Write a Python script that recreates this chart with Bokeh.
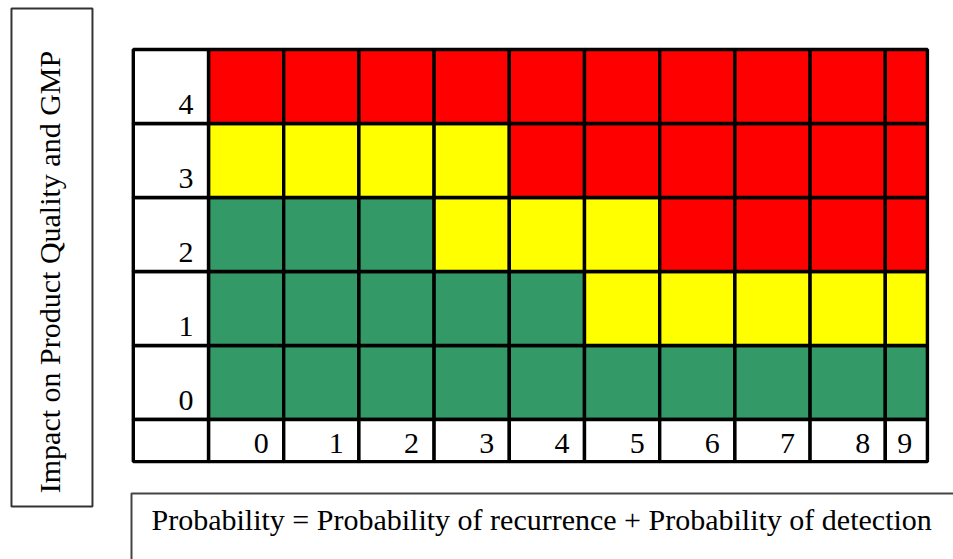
from bokeh.plotting import figure
from bokeh.models import Range1d
from bokeh.core.properties import value
from bokeh.embed import file_html
from bokeh.resources import INLINE

# ---- data ----
col_labels = ["0", "1", "2", "3", "4", "5", "6", "7", "8", "9"]   # probability
row_labels = ["0", "1", "2", "3", "4"]                            # impact
risk_row0 = ["low"] * 10
risk_row1 = ["low"] * 5 + ["medium"] * 5
risk_row2 = ["low"] * 3 + ["medium"] * 3 + ["high"] * 4
risk_row3 = ["medium"] * 4 + ["high"] * 6
risk_row4 = ["high"] * 10
risk_rows = [risk_row0, risk_row1, risk_row2, risk_row3, risk_row4]
y_title = "Impact on Product Quality and GMP"
note_text = "Probability = Probability of recurrence + Probability of detection"

# ---- styles / layout ----
risk_colors = {"low": "#339966", "medium": "#FFFF00", "high": "#FF0000"}
FONT = value("Liberation Serif")
FSIZE = value("30px")
GRID_W = 3.4
last_col_frac = 0.56      # the table is cut off in the last column
label_row_h = 0.57        # height of the tick-label row

def col_right(i):
    return i + (last_col_frac if i == len(col_labels) - 1 else 1.0)

p = figure(width=953, height=559, x_range=Range1d(-2.766, 9.907),
           y_range=Range1d(-1.892, 5.662), x_axis_type=None, y_axis_type=None,
           toolbar_location=None, output_backend="svg", min_border=0,
           outline_line_color=None)
p.grid.visible = False
p.background_fill_color = "white"
p.border_fill_color = "white"

# coloured cells
L, R, B, T, C = [], [], [], [], []
for r, row in enumerate(risk_rows):
    for i, lvl in enumerate(row):
        L.append(i); R.append(col_right(i)); B.append(r); T.append(r + 1)
        C.append(risk_colors[lvl])
p.quad(left=L, right=R, bottom=B, top=T, fill_color=C,
       line_color="black", line_width=GRID_W)

# label cells (white)
L2, R2, B2, T2 = [], [], [], []
for r in range(len(row_labels)):
    L2.append(-1); R2.append(0); B2.append(r); T2.append(r + 1)
for i in range(len(col_labels)):
    L2.append(i); R2.append(col_right(i)); B2.append(-label_row_h); T2.append(0)
L2.append(-1); R2.append(0); B2.append(-label_row_h); T2.append(0)
p.quad(left=L2, right=R2, bottom=B2, top=T2, fill_color="white",
       line_color="black", line_width=GRID_W)

# row labels
p.text(x=[-0.2] * len(row_labels), y=[r + 0.257 for r in range(len(row_labels))],
       text=row_labels, text_font=FONT, text_font_size=FSIZE,
       text_align="right", text_baseline="alphabetic", text_color="black")
# column labels
p.text(x=[col_right(i) - 0.2 for i in range(len(col_labels))],
       y=[-0.324] * len(col_labels), text=col_labels, text_font=FONT,
       text_font_size=FSIZE, text_align="right", text_baseline="alphabetic",
       text_color="black")

# y title box
p.quad(left=[-2.62], right=[-1.543], bottom=[-1.176], top=[5.554],
       fill_color=None, line_color="#333333", line_width=2)
p.text(x=[-2.114], y=[1.993], text=[y_title], angle=1.5707963,
       text_font=FONT, text_font_size=FSIZE, text_align="center",
       text_baseline="alphabetic", text_color="black")

# note box
p.quad(left=[-1.024], right=[12], bottom=[-4], top=[-1.0],
       fill_color=None, line_color="#444444", line_width=2)
p.text(x=[-0.758], y=[-1.351], text=[note_text], text_font=FONT,
       text_font_size=FSIZE, text_align="left", text_baseline="alphabetic",
       text_color="black")

open("out.html", "w").write(file_html(p, INLINE))
